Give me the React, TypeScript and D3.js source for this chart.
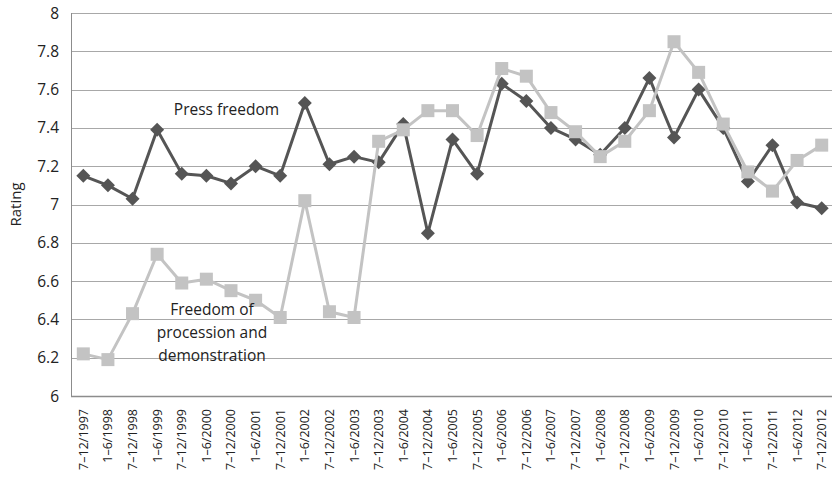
import React, { useEffect, useRef } from "react";
import * as d3 from "d3";

const periods = [
  "7–12/1997", "1–6/1998", "7–12/1998", "1–6/1999", "7–12/1999", "1–6/2000", "7–12/2000",
  "1–6/2001", "7–12/2001", "1–6/2002", "7–12/2002", "1–6/2003", "7–12/2003", "1–6/2004",
  "7–12/2004", "1–6/2005", "7–12/2005", "1–6/2006", "7–12/2006", "1–6/2007", "7–12/2007",
  "1–6/2008", "7–12/2008", "1–6/2009", "7–12/2009", "1–6/2010", "7–12/2010", "1–6/2011",
  "7–12/2011", "1–6/2012", "7–12/2012",
];

const pressFreedom = [
  7.15, 7.10, 7.03, 7.39, 7.16, 7.15, 7.11, 7.20, 7.15, 7.53, 7.21, 7.25, 7.22, 7.42, 6.85, 7.34,
  7.16, 7.63, 7.54, 7.40, 7.34, 7.26, 7.40, 7.66, 7.35, 7.60, 7.40, 7.12, 7.31, 7.01, 6.98,
];

const procession = [
  6.22, 6.19, 6.43, 6.74, 6.59, 6.61, 6.55, 6.50, 6.41, 7.02, 6.44, 6.41, 7.33, 7.39, 7.49, 7.49,
  7.36, 7.71, 7.67, 7.48, 7.38, 7.25, 7.33, 7.49, 7.85, 7.69, 7.42, 7.17, 7.07, 7.23, 7.31,
];

const yTicks = [6, 6.2, 6.4, 6.6, 6.8, 7, 7.2, 7.4, 7.6, 7.8, 8];

const FONT = "'Open Sans', sans-serif";

const App = () => {
  const ref = useRef<SVGSVGElement | null>(null);

  useEffect(() => {
    const width = 832, height = 496;
    const margin = { top: 13, right: -2, bottom: 100, left: 71 };
    const svg = d3.select(ref.current);
    svg.selectAll("*").remove();

    var x = d3.scaleBand().domain(periods).range([margin.left, width - margin.right]);
    var y = d3.scaleLinear().domain([6, 8]).range([height - margin.bottom, margin.top]);
    const cx = (i: number) => x(periods[i])! + x.bandwidth() / 2;

    // gridlines
    svg.append("g").selectAll("line").data(yTicks.slice(1)).join("line")
      .attr("x1", margin.left).attr("x2", width)
      .attr("y1", (d) => Math.round(y(d)) + 0.5).attr("y2", (d) => Math.round(y(d)) + 0.5)
      .attr("stroke", "#a8a8a8").attr("stroke-width", 1);

    // axes
    svg.append("line")
      .attr("x1", margin.left + 0.5).attr("x2", margin.left + 0.5)
      .attr("y1", y(8)).attr("y2", y(6))
      .attr("stroke", "#8c8c8c");
    svg.append("line")
      .attr("x1", margin.left).attr("x2", width)
      .attr("y1", Math.round(y(6)) + 0.5).attr("y2", Math.round(y(6)) + 0.5)
      .attr("stroke", "#8c8c8c").attr("stroke-width", 1.5);

    svg.append("g").selectAll("text").data(yTicks).join("text")
      .attr("x", 59).attr("y", (d) => y(d))
      .attr("dy", "0.36em")
      .attr("text-anchor", "end")
      .style("font-family", FONT).style("font-size", "15.5px").attr("fill", "#222")
      .text((d) => String(d));

    svg.append("text")
      .attr("transform", "translate(21," + y(7) + ") rotate(-90)")
      .attr("text-anchor", "middle")
      .style("font-family", FONT).style("font-size", "15px").attr("fill", "#222")
      .text("Rating");

    svg.append("g").selectAll("text").data(periods).join("text")
      .attr("transform", (d, i) => "translate(" + (cx(i) + 4.5) + "," + (y(6) + 13) + ") rotate(-90)")
      .attr("text-anchor", "end")
      .style("font-family", FONT).style("font-size", "12.5px").attr("fill", "#222")
      .text((d) => d);

    const line = d3.line<number>().x((d, i) => cx(i)).y((d) => y(d));

    // press freedom (dark, diamonds)
    svg.append("path").datum(pressFreedom)
      .attr("fill", "none").attr("stroke", "#555555").attr("stroke-width", 3)
      .attr("stroke-linejoin", "round")
      .attr("d", line);
    svg.append("g").selectAll("path").data(pressFreedom).join("path")
      .attr("transform", (d, i) => "translate(" + cx(i) + "," + y(d) + ")")
      .attr("d", "M0,-7L7,0L0,7L-7,0Z")
      .attr("fill", "#555555");

    // procession (light, squares)
    svg.append("path").datum(procession)
      .attr("fill", "none").attr("stroke", "#c3c3c3").attr("stroke-width", 3)
      .attr("stroke-linejoin", "round")
      .attr("d", line);
    svg.append("g").selectAll("rect").data(procession).join("rect")
      .attr("x", (d, i) => cx(i) - 6.5).attr("y", (d) => y(d) - 6.5)
      .attr("width", 13).attr("height", 13)
      .attr("fill", "#c3c3c3");

    svg.append("text")
      .attr("x", 226.5).attr("y", 115)
      .attr("text-anchor", "middle")
      .style("font-family", FONT).style("font-size", "15.5px").attr("fill", "#222")
      .text("Press freedom");

    const lbl = svg.append("text")
      .attr("text-anchor", "middle")
      .style("font-family", FONT).style("font-size", "15.5px").attr("fill", "#222");
    ["Freedom of", "procession and", "demonstration"].forEach((t, i) => {
      lbl.append("tspan").attr("x", 212).attr("y", 315 + i * 23).text(t);
    });
  }, []);

  return (
    <svg ref={ref} width={832} height={496} style={{ position: "absolute", left: 0, top: 0, background: "#fff" }} />
  );
};

export default App;
